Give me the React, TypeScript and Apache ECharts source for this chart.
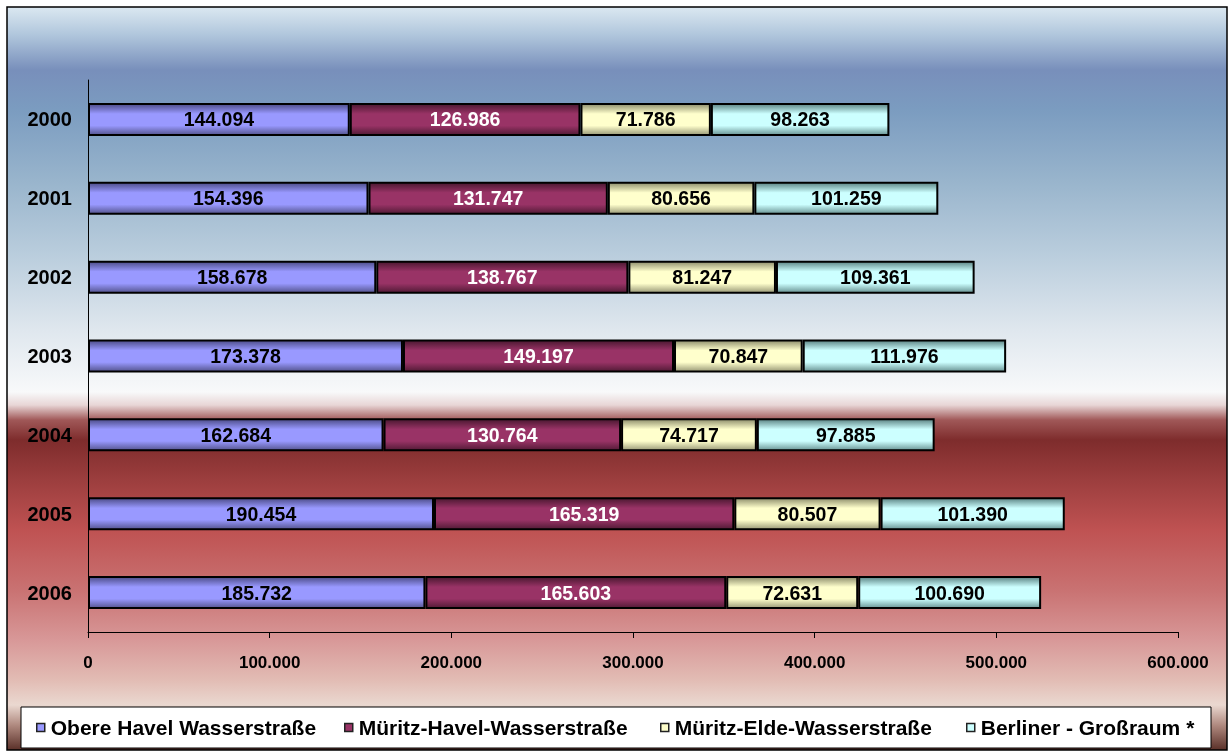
import React, { useEffect, useRef } from "react";
import * as echarts from "echarts";

const years = ["2000", "2001", "2002", "2003", "2004", "2005", "2006"];
const seriesNames = [
  "Obere Havel Wasserstraße",
  "Müritz-Havel-Wasserstraße",
  "Müritz-Elde-Wasserstraße",
  "Berliner - Großraum *",
];
const obereHavel = [144094, 154396, 158678, 173378, 162684, 190454, 185732];
const mueritzHavel = [126986, 131747, 138767, 149197, 130764, 165319, 165603];
const mueritzElde = [71786, 80656, 81247, 70847, 74717, 80507, 72631];
const berliner = [98263, 101259, 109361, 111976, 97885, 101390, 100690];
const xTicks = [0, 100000, 200000, 300000, 400000, 500000, 600000];

const fmt = (n: number) => String(Math.round(n)).replace(/\B(?=(\d{3})+(?!\d))/g, ".");

const SANS = "'Liberation Sans', Arial, sans-serif";

const baseColors = ["#9999ff", "#993366", "#ffffcc", "#ccffff"];
const edgeTop = ["#4c4c88", "#4a1830", "#8e8e6c", "#5c8484"];
const edgeBot = ["#55558f", "#521b36", "#9a9a78", "#6a9494"];
const labelColors = ["#000", "#fff", "#000", "#000"];
const legendLeft = [36, 344, 660, 966];

function grad(i: number) {
  return new echarts.graphic.LinearGradient(0, 0, 0, 1, [
    { offset: 0, color: edgeTop[i] },
    { offset: 0.32, color: baseColors[i] },
    { offset: 0.7, color: baseColors[i] },
    { offset: 1, color: edgeBot[i] },
  ]);
}

const bgStops: [number, string][] = [
  [7, "#dbe8f1"],
  [35, "#b0c6dc"],
  [70, "#788fbb"],
  [110, "#7b9cc0"],
  [180, "#98b4cc"],
  [260, "#bccfde"],
  [330, "#dfe7ee"],
  [392, "#f8f9fa"],
  [405, "#e8d6d6"],
  [420, "#a05858"],
  [440, "#7e2c2c"],
  [480, "#9c3e3e"],
  [530, "#bf5252"],
  [590, "#c97272"],
  [640, "#d89898"],
  [680, "#e2bcb4"],
  [705, "#ead8d0"],
  [725, "#b08a80"],
  [750, "#5a3028"],
];

export default function App() {
  const ref = useRef<HTMLDivElement>(null);
  useEffect(() => {
    if (!ref.current) return;
    const chart = echarts.init(ref.current, undefined, { renderer: "svg" });
    const data = [obereHavel, mueritzHavel, mueritzElde, berliner];
    const bg = new echarts.graphic.LinearGradient(
      0,
      0,
      0,
      1,
      bgStops.map(([y, c]) => ({ offset: (y - 7) / 743, color: c }))
    );
    chart.setOption({
      animation: false,
      textStyle: { fontFamily: SANS },
      graphic: [
        {
          type: "rect",
          z: -10,
          shape: { x: 7, y: 7, width: 1220, height: 743 },
          style: { fill: bg, stroke: "#000", lineWidth: 1.5 },
        },
        {
          type: "rect",
          z: -9,
          shape: { x: 21, y: 707, width: 1190, height: 41 },
          style: { fill: "#fff", stroke: "#000", lineWidth: 1 },
        },
      ],
      grid: { left: 88, right: 53, top: 80, bottom: 121, containLabel: false },
      xAxis: {
        type: "value",
        min: 0,
        max: 600000,
        interval: 100000,
        splitLine: { show: false },
        axisLine: { show: true, lineStyle: { color: "#000", width: 1 } },
        axisTick: { show: true, length: 6, lineStyle: { color: "#000" } },
        axisLabel: {
          margin: 22,
          color: "#000",
          fontWeight: "bold",
          fontSize: 17,
          fontFamily: SANS,
          formatter: (v: number) => fmt(v),
          customValues: xTicks,
        },
      },
      yAxis: {
        type: "category",
        data: years,
        inverse: true,
        axisLine: { show: true, lineStyle: { color: "#000", width: 1 } },
        axisTick: { show: false },
        axisLabel: {
          margin: 16,
          color: "#000",
          fontWeight: "bold",
          fontSize: 20,
          fontFamily: SANS,
        },
      },
      legend: seriesNames.map((name, i) => ({
        left: legendLeft[i],
        top: 717,
        padding: 0,
        z: 10,
        icon: "rect",
        itemWidth: 8,
        itemHeight: 8,
        itemGap: 6,
        data: [
          {
            name,
            itemStyle: { color: baseColors[i], borderColor: "#222", borderWidth: 1.5 },
          },
        ],
        textStyle: { fontFamily: SANS, fontWeight: "bold", fontSize: 21, color: "#000", padding: [0, 0, 0, 1] },
      })),
      series: seriesNames.map((name, i) => ({
        name,
        type: "bar",
        stack: "total",
        barWidth: 33,
        data: data[i],
        itemStyle: { color: grad(i), borderColor: "#000", borderWidth: 2 },
        label: {
          show: true,
          position: "inside",
          color: labelColors[i],
          fontWeight: "bold",
          fontSize: 19.5,
          fontFamily: SANS,
          formatter: (p: any) => fmt(p.value),
        },
      })),
    });
    return () => chart.dispose();
  }, []);
  return (
    <div
      ref={ref}
      style={{ position: "fixed", left: 0, top: 0, width: 1231, height: 753 }}
    />
  );
}
